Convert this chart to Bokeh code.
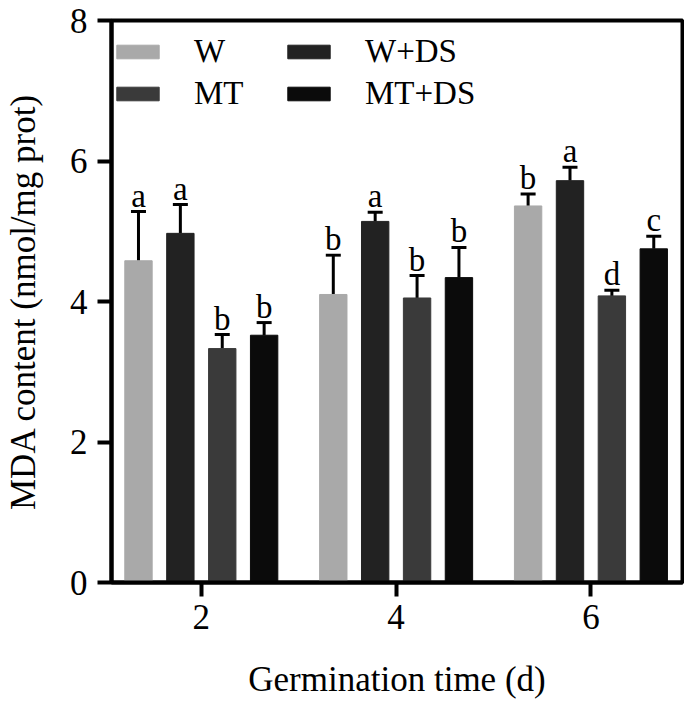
import numpy as np
from bokeh.plotting import figure
from bokeh.models import (ColumnDataSource, Whisker, TeeHead, FixedTicker, Legend, LegendItem, Range1d)
from bokeh.core.properties import value
from bokeh.embed import file_html
from bokeh.resources import INLINE

# ---- data ----
days = [2, 4, 6]
series = ["W", "W+DS", "MT", "MT+DS"]
W = [4.58, 4.10, 5.36]
W_err = [0.70, 0.56, 0.17]
WDS = [4.97, 5.14, 5.72]
WDS_err = [0.41, 0.13, 0.19]
MT = [3.33, 4.05, 4.08]
MT_err = [0.20, 0.32, 0.08]
MTDS = [3.52, 4.34, 4.75]
MTDS_err = [0.18, 0.43, 0.18]
W_letters = ["a", "b", "b"]
WDS_letters = ["a", "a", "a"]
MT_letters = ["b", "b", "d"]
MTDS_letters = ["b", "b", "c"]
y_ticks = [0, 2, 4, 6, 8]

colors = ["#a9a9a9", "#222222", "#3a3a3a", "#0b0b0b"]
offsets = [-0.645, -0.215, 0.215, 0.645]
bar_w = 0.281
FONT = "Liberation Serif"

p = figure(width=684, height=703, output_backend="svg", toolbar_location=None,
           x_range=Range1d(1.078, 6.94), y_range=Range1d(0, 8),
           min_border_left=104, min_border_right=2, min_border_top=20, min_border_bottom=121)
p.grid.visible = False
p.outline_line_color = "black"
p.outline_line_width = 4
p.background_fill_color = "white"

vals = [W, WDS, MT, MTDS]
errs = [W_err, WDS_err, MT_err, MTDS_err]
lets = [W_letters, WDS_letters, MT_letters, MTDS_letters]
renderers = {}
for name, v, e, l, c, off in zip(series, vals, errs, lets, colors, offsets):
    v = np.array(v); e = np.array(e)
    src = ColumnDataSource(dict(x=np.array(days) + off, top=v, upper=v + e, lower=v, lab=l))
    r = p.vbar(x="x", top="top", width=bar_w, bottom=0, source=src,
               fill_color=c, line_color=c, line_width=1)
    renderers[name] = r
    wh = Whisker(base="x", upper="upper", lower="lower", source=src, dimension="height",
                 line_width=3, line_color="black",
                 upper_head=TeeHead(size=15, line_width=3, line_color="black"), lower_head=None)
    p.add_layout(wh)
    p.text(x="x", y="upper", text="lab", source=src, text_align="center",
           text_baseline="bottom", y_offset=2, text_font=value(FONT),
           text_font_size="33px", text_color="black")

# axes
for ax in (p.xaxis[0], p.yaxis[0]):
    ax.axis_line_width = 4
    ax.major_tick_line_width = 4
    ax.major_tick_out = 14
    ax.major_tick_in = 0
    ax.minor_tick_line_color = None
    ax.major_label_text_font = FONT
    ax.major_label_text_font_size = "35px"
    ax.major_label_text_color = "black"
    ax.axis_label_text_font = FONT
    ax.axis_label_text_font_size = "35px"
    ax.axis_label_text_font_style = "normal"
    ax.axis_label_text_color = "black"

p.xaxis.ticker = FixedTicker(ticks=days)
p.yaxis.ticker = FixedTicker(ticks=y_ticks)
p.xaxis.axis_label = "Germination time (d)"
p.yaxis.axis_label = "MDA content (nmol/mg prot)"
p.yaxis.major_label_standoff = 10
p.xaxis.major_label_standoff = 8
p.yaxis.axis_label_standoff = 24
p.xaxis.axis_label_standoff = 28

legend = Legend(items=[LegendItem(label=s, renderers=[renderers[s]]) for s in ["W", "MT", "W+DS", "MT+DS"]],
                location=(0, 470), ncols=2, orientation="vertical",
                glyph_width=53, glyph_height=17, label_standoff=30, label_width=84,
                label_height=38,
                label_text_font=FONT, label_text_font_size="33px", label_text_color="black",
                spacing=4, padding=0, margin=0,
                border_line_alpha=0, background_fill_alpha=0)
p.add_layout(legend)

open("out.html", "w").write(file_html(p, INLINE))
